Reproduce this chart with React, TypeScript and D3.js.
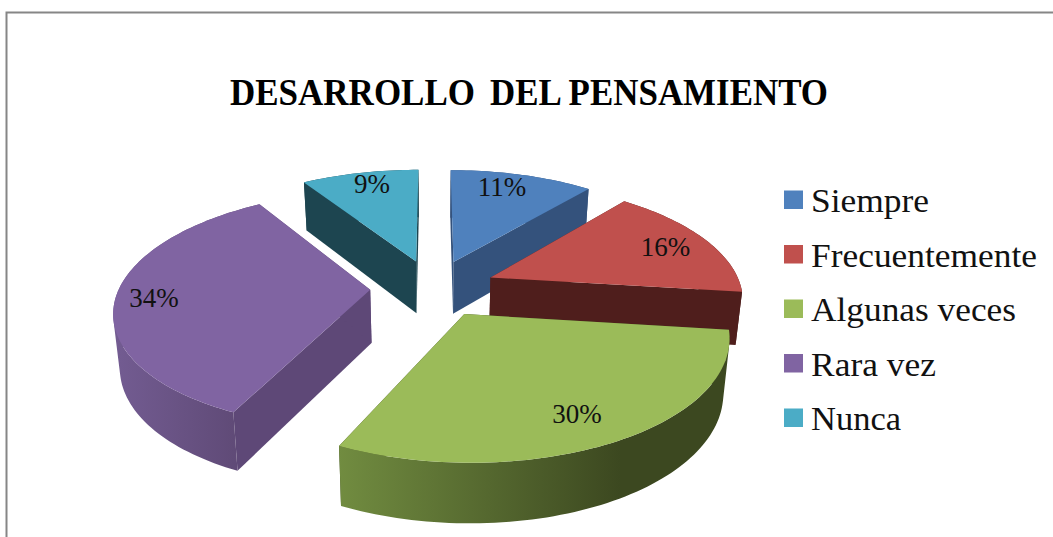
import React from "react";
import * as d3 from "d3";

const categories = ["Siempre", "Frecuentemente", "Algunas veces", "Rara vez", "Nunca"];
const shares = [11, 16, 30, 34, 9];
const percentLabels = ["11%", "16%", "30%", "34%", "9%"];
const titleWords = ["DESARROLLO", "DEL PENSAMIENTO"];

const topColors = ["#4f81bd", "#c0504d", "#9bbb59", "#8064a2", "#4bacc6"];
const wallColors = ["#34527c", "#4f1e1c", "#3f4a22", "#5e4877", "#1d4550"];
const rimLight = ["#34527c", "#4f1e1c", "#718c40", "#735c92", "#1d4550"];
const rimDark = ["#34527c", "#4f1e1c", "#3c4820", "#5c4772", "#1d4550"];
const legendWidths = [118, 226, 205, 125, 90];
const labelNudgeX = [-9, -2, -9, -8, 3];
const labelNudgeY = [-2, 1, -2, 2, -4];

const W = 1053, H = 537;
const CX = 433, CY = 288, A = 251, B = 114.7, K = 0.164;
const EXPLODE = 0.25, DEPTH = 53, SHRINK = 0.979, LABEL_R = 0.82;
const SERIF = "'Liberation Serif', 'Times New Roman', serif";

type P = [number, number];
const persp = (v: number) => 1 / (1 - K * v);
const top = (u: number, v: number): P => {
  const s = persp(v);
  return [CX + A * u * s, CY + B * v * s];
};
const bottom = (u: number, v: number): P => {
  const s = persp(v);
  const [x, y] = top(u, v);
  return [CX + (x - CX) * SHRINK, y + DEPTH * Math.pow(s, 0.6)];
};

const pie = d3.pie<number>().sort(null).value((d) => d);
const line = d3.line<P>();
const closed = (pts: P[]) => (line(pts) as string) + "Z";
const positive = (pts: P[]) => (d3.polygonArea(pts) < 0 ? pts.slice().reverse() : pts);

const arcs = pie(shares).map((a, i) => {
  const mid = (a.startAngle + a.endAngle) / 2;
  const ou = EXPLODE * Math.sin(mid);
  const ov = -EXPLODE * Math.cos(mid);
  const n = Math.max(8, Math.ceil((a.endAngle - a.startAngle) * 40));
  const plane: P[] = d3.range(n + 1).map((k) => {
    const t = a.startAngle + ((a.endAngle - a.startAngle) * k) / n;
    return [ou + Math.sin(t), ov - Math.cos(t)];
  });
  const first = plane[0];
  const last = plane[plane.length - 1];
  const topArc = plane.map((p) => top(p[0], p[1]));
  const botArc = plane.map((p) => bottom(p[0], p[1]));
  const wall = (e: P) => closed([top(ou, ov), top(e[0], e[1]), bottom(e[0], e[1]), bottom(ou, ov)]);
  const rimPath = d3
    .range(n)
    .map((k) => closed(positive([topArc[k], topArc[k + 1], botArc[k + 1], botArc[k]])))
    .join("");
  const xs = topArc.map((p) => p[0]);
  const lu = ou + LABEL_R * Math.sin(mid);
  const lv = ov - LABEL_R * Math.cos(mid);
  return {
    i,
    order: ov,
    topPath: closed([top(ou, ov), ...topArc]),
    rimPath,
    wallA: wall(first),
    wallB: wall(last),
    x1: d3.min(xs) as number,
    x2: d3.max(xs) as number,
    label: top(lu, lv),
  };
});
const drawOrder = arcs.slice().sort((a, b) => a.order - b.order);

const legendY = d3.scalePoint<string>().domain(categories).range([200, 418]);

export default function App() {
  return (
    <svg width={W} height={H} viewBox={`0 0 ${W} ${H}`} style={{ position: "fixed", left: 0, top: 0, background: "#fff" }}>
      <defs>
        {arcs.map((a) => (
          <linearGradient key={a.i} id={`rim${a.i}`} gradientUnits="userSpaceOnUse" x1={a.x1} x2={a.i === 2 ? a.x1 + (a.x2 - a.x1) * 0.72 : a.x2} y1={0} y2={0}>
            <stop offset="0" stopColor={rimLight[a.i]} />
            <stop offset="1" stopColor={rimDark[a.i]} />
          </linearGradient>
        ))}
      </defs>
      <rect x={6.5} y={12.5} width={W + 20} height={H + 20} fill="#fff" stroke="#868686" strokeWidth={2} />
      <text x={230} y={105} fontFamily={SERIF} fontWeight="bold" fontSize={37} textLength={245} lengthAdjust="spacingAndGlyphs" fill="#000">
        {titleWords[0]}
      </text>
      <text x={490} y={105} fontFamily={SERIF} fontWeight="bold" fontSize={37} textLength={338} lengthAdjust="spacingAndGlyphs" fill="#000">
        {titleWords[1]}
      </text>
      {drawOrder.map((a) => (
        <g key={a.i}>
          <path d={a.wallA} fill={wallColors[a.i]} />
          <path d={a.wallB} fill={wallColors[a.i]} />
          <path d={a.rimPath} fill={`url(#rim${a.i})`} />
          <path d={a.topPath} fill={topColors[a.i]} />
        </g>
      ))}
      {arcs.map((a) => (
        <text key={a.i} x={a.label[0] + labelNudgeX[a.i]} y={a.label[1] + labelNudgeY[a.i]} dy="0.35em" textAnchor="middle" fontFamily={SERIF} fontSize={27} fill="#111">
          {percentLabels[a.i]}
        </text>
      ))}
      {categories.map((c, i) => {
        const y = legendY(c) as number;
        return (
          <g key={c}>
            <rect x={784} y={y - 9.5} width={19} height={18.5} fill={topColors[i]} />
            <text x={811} y={y + 12} fontFamily={SERIF} fontSize={34.5} textLength={legendWidths[i]} lengthAdjust="spacingAndGlyphs" fill="#111">
              {c}
            </text>
          </g>
        );
      })}
    </svg>
  );
}
